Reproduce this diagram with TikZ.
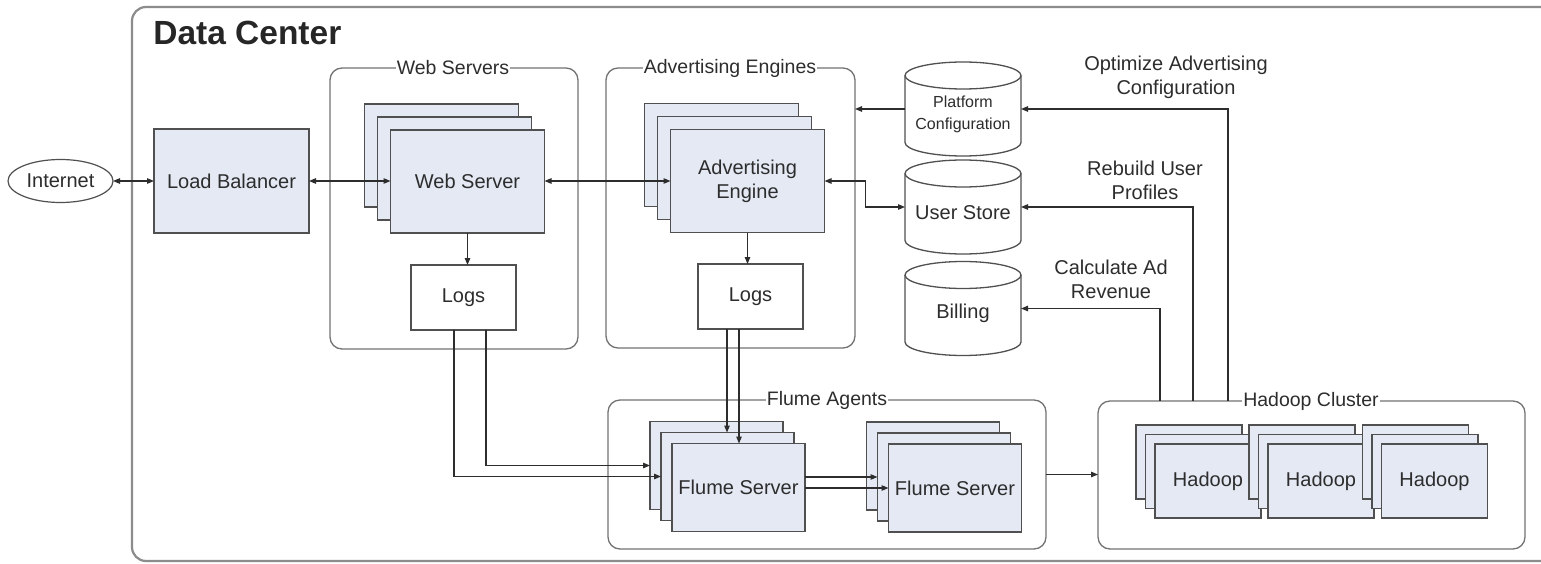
\documentclass[tikz,border=0pt]{standalone}
\usepackage{fontspec}
\setmainfont{Liberation Sans}
\usetikzlibrary{arrows.meta,calc,shapes.geometric}
\definecolor{boxfill}{RGB}{228,233,244}
\definecolor{lineg}{RGB}{80,80,80}
\definecolor{grpline}{RGB}{115,115,115}
\definecolor{outerline}{RGB}{140,140,140}
\definecolor{txt}{RGB}{45,45,45}
\newcommand\drawdb[1]{%
  \draw[dbline] ($(#1.north west)+(0,13.5)$) -- ($(#1.south west)+(0,-13.5)$)
    arc[start angle=180,end angle=360,x radius=58pt,y radius=13.5pt]
    -- ($(#1.north east)+(0,13.5)$)
    arc[start angle=0,end angle=180,x radius=58pt,y radius=13.5pt] -- cycle;
  \draw[dbline,fill=none] ($(#1.north west)+(0,13.5)$)
    arc[start angle=180,end angle=360,x radius=58pt,y radius=13.5pt];}
\begin{document}
\begin{tikzpicture}[x=1pt,y=-1pt,
  every node/.style={text=txt, outer sep=0pt},
  srv/.style={draw=lineg, fill=boxfill, line width=1.3pt, font=\fontsize{20}{24}\selectfont, align=center, inner sep=0pt},
  wsbox/.style={srv, minimum width=154, minimum height=103},
  flbox/.style={srv, minimum width=133, minimum height=88},
  hdbox/.style={srv, minimum width=106, minimum height=74},
  logbox/.style={draw=lineg, fill=white, line width=1.3pt, font=\fontsize{20}{24}\selectfont, minimum width=105, minimum height=65, inner sep=0pt},
  grp/.style={draw=grpline, line width=1.3pt, rounded corners=12pt, inner sep=0pt},
  grplabel/.style={fill=white, inner xsep=1pt, inner ysep=0pt, font=\fontsize{19.5}{22}\selectfont},
  dbnode/.style={minimum width=116, minimum height=94, inner sep=0pt},
  dbline/.style={draw=lineg, fill=white, line width=1.3pt},
  dbtext/.style={font=\fontsize{20}{24}\selectfont, align=center},
  note/.style={font=\fontsize{20}{24}\selectfont, align=center},
  arr/.style={draw=txt, line width=1.1pt, -{Triangle[length=7pt,width=5.5pt]}},
  biarr/.style={draw=txt, line width=1.1pt, {Triangle[length=7pt,width=5.5pt]}-{Triangle[length=7pt,width=5.5pt]}}
]
\useasboundingbox (0,0) rectangle (1541,564);
\clip (0,0) rectangle (1541,564);
\fill[white] (0,0) rectangle (1541,564);

% outer data center box
\draw[draw=outerline, line width=2.2pt, rounded corners=14pt] (132,7) rectangle (1580,561);
\node[anchor=base west, font=\fontsize{33.5}{38}\selectfont\bfseries, text=black!85] (dctitle) at (150,45) {Data Center};

% groups
\node[grp, minimum width=248, minimum height=281] (wsg) at (454,208.5) {};
\node[grplabel] (wsgl) at (453,68) {Web Servers};
\node[grp, minimum width=249, minimum height=280] (aeg) at (730.5,208) {};
\node[grplabel] (aegl) at (730,68) {Advertising Engines};
\node[grp, minimum width=438, minimum height=149] (fag) at (827,474.5) {};
\node[grplabel] (fagl) at (827,400) {Flume Agents};
\node[grp, minimum width=427, minimum height=148] (hcg) at (1311.5,475) {};
\node[grplabel] (hcgl) at (1311,401) {Hadoop Cluster};

% internet and load balancer
\node[draw=lineg, line width=1.2pt, ellipse, minimum width=105, minimum height=43, inner sep=0pt, font=\fontsize{20}{24}\selectfont] (inet) at (60.5,181) {Internet};
\node[srv, minimum width=155, minimum height=104] (lb) at (231.5,181) {Load Balancer};

% web servers stack
\node[wsbox] (ws1) at (441.5,155.5) {};
\node[wsbox] (ws2) at (454.5,168.5) {};
\node[wsbox] (ws3) at (467.5,181.5) {Web Server};
\node[logbox] (wl) at (463.5,297.5) {Logs};

% advertising engines stack
\node[wsbox] (ae1) at (721.5,155) {};
\node[wsbox] (ae2) at (734.5,168) {};
\node[wsbox] (ae3) at (747.5,181) {Advertising\\Engine};
\node[logbox] (al) at (750.5,296.5) {Logs};

% databases
\node[dbnode] (pc) at (963,109) {};
\node[dbnode] (us) at (963,207) {};
\node[dbnode] (bl) at (963,308.5) {};
\drawdb{pc}\drawdb{us}\drawdb{bl}
\node[dbtext, font=\fontsize{16}{22}\selectfont] (pct) at (963,114) {Platform\\Configuration};
\node[dbtext] (ust) at (963,213) {User Store};
\node[dbtext] (blt) at (963,313) {Billing};

% flume stacks
\node[flbox] (fb1) at (716.5,465.5) {};
\node[flbox] (fm1) at (727.5,476.5) {};
\node[flbox] (ff1) at (738.5,487.5) {Flume Server};
\node[flbox] (fb2) at (933,466) {};
\node[flbox] (fm2) at (944,477) {};
\node[flbox] (ff2) at (955,488) {Flume Server};

% hadoop stacks
\foreach \i/\x in {1/1208,2/1321,3/1434.5}{
  \node[hdbox] (hb\i) at (\x-19,462) {};
  \node[hdbox] (hm\i) at (\x-9.5,471.5) {};
  \node[hdbox] (hf\i) at (\x,481) {Hadoop};
}

% notes
\node[note] (n1) at (1176,77) {Optimize Advertising\\Configuration};
\node[note] (n2) at (1145,180) {Rebuild User\\Profiles};
\node[note] (n3) at (1111,279) {Calculate Ad\\Revenue};

% connectors
\draw[biarr] (inet.east) -- (lb.west);
\draw[biarr] (lb.east) -- (ws3.west |- lb.east);
\draw[biarr] (ws3.east |- ae3.west) -- (ae3.west);
\draw[biarr] (ae3.east) -- ++(41,0) |- (us.west);
\draw[arr] (pc.west) -- (pc.west -| aeg.east);
\draw[arr] (ws3.south) -- (ws3.south |- wl.north);
\draw[arr] (ae3.south) -- (ae3.south |- al.north);
\draw[arr] (wl.south -| 486,0) |- (fb1.west);
\draw[arr] (wl.south -| 454,0) |- (fm1.west);
\draw[arr] (al.south -| 727,0) -- (fm1.north -| 727,0);
\draw[arr] (al.south -| 739,0) -- (ff1.north -| 739,0);
\draw[arr] (ff1.east |- fm2.west) -- (fm2.west);
\draw[arr] (ff1.east |- ff2.west) -- (ff2.west);
\draw[arr] (fag.east) -- (fag.east -| hcg.west);
\draw[arr] (hcg.north -| 1228,0) |- (pc.east);
\draw[arr] (hcg.north -| 1193,0) |- (us.east);
\draw[arr] (hcg.north -| 1160,0) |- (bl.east);
\end{tikzpicture}
\end{document}
